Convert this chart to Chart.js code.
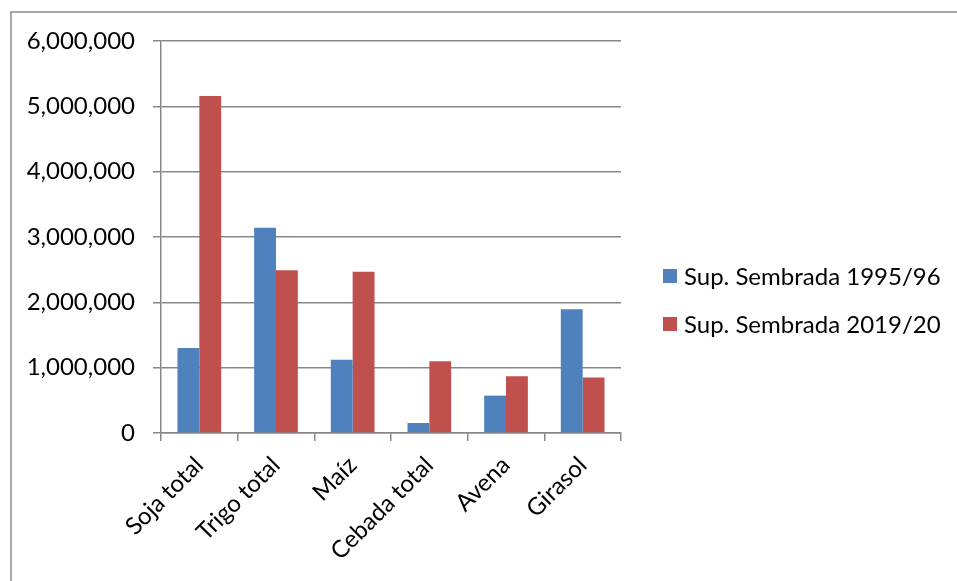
<!DOCTYPE html>
<html lang="es">
<head>
    <meta charset="UTF-8">
    <title>Superficie sembrada</title>
    <style>
        html, body { margin: 0; padding: 0; background: #ffffff; }
        canvas { display: block; }
    </style>
</head>
<body>
    <script src="https://cdn.jsdelivr.net/npm/chart.js@4.4.1/dist/chart.umd.min.js"></script>
    <canvas id="superficie" width="957" height="581"></canvas>
    <script>
        var cultivos = ['Soja total', 'Trigo total', 'Maíz', 'Cebada total', 'Avena', 'Girasol'];
        var sup9596 = [1300000, 3140000, 1120000, 153000, 572000, 1896000];
        var sup1920 = [5160000, 2490000, 2470000, 1100000, 868000, 848000];
        var ticksY = [0, 1000000, 2000000, 3000000, 4000000, 5000000, 6000000];

        var gris = '#878787';
        var fuente = { family: 'Lato', size: 24 };

        // marco del grafico (solo borde izquierdo y superior)
        var marco = {
            id: 'marco',
            beforeDraw: function (chart) {
                var ctx = chart.ctx;
                ctx.save();
                ctx.strokeStyle = '#8a8a8a';
                ctx.lineWidth = 1.5;
                ctx.beginPath();
                ctx.moveTo(11, chart.height);
                ctx.lineTo(11, 12);
                ctx.lineTo(chart.width, 12);
                ctx.stroke();
                ctx.restore();
            }
        };

        // leyenda a la derecha, dibujada a partir de los datasets
        var leyenda = {
            id: 'leyenda',
            afterDraw: function (chart) {
                var ctx = chart.ctx;
                ctx.save();
                ctx.font = fuente.size + 'px ' + fuente.family;
                ctx.textBaseline = 'middle';
                chart.data.datasets.forEach(function (ds, i) {
                    var y = 276 + i * 48;
                    ctx.fillStyle = ds.backgroundColor;
                    ctx.fillRect(663, y - 7, 14, 14);
                    ctx.fillStyle = '#000000';
                    ctx.fillText(ds.label, 684, y + 1);
                });
                ctx.restore();
            }
        };

        var data = {
            labels: cultivos,
            datasets: [{
                label: 'Sup. Sembrada 1995/96',
                data: sup9596,
                backgroundColor: '#4F81BD'
            }, {
                label: 'Sup. Sembrada 2019/20',
                data: sup1920,
                backgroundColor: '#C0504D'
            }]
        };

        var options = {
            responsive: false,
            animation: false,
            layout: {
                padding: { left: 0, top: 41, right: 336, bottom: 0 }
            },
            datasets: {
                bar: {
                    categoryPercentage: 0.57,
                    barPercentage: 1
                }
            },
            scales: {
                x: {
                    grid: {
                        drawOnChartArea: false,
                        drawTicks: true,
                        tickLength: 8,
                        color: gris,
                        lineWidth: 1.5
                    },
                    border: { color: gris, width: 1.5 },
                    ticks: {
                        color: '#000000',
                        font: fuente,
                        minRotation: 45,
                        maxRotation: 45,
                        padding: 10
                    },
                    afterFit: function (scale) {
                        scale.height = 148;
                    }
                },
                y: {
                    min: 0,
                    max: 6000000,
                    afterBuildTicks: function (scale) {
                        scale.ticks = ticksY.map(function (v) { return { value: v }; });
                    },
                    grid: {
                        color: gris,
                        lineWidth: 1.5,
                        tickLength: 8
                    },
                    border: { color: gris, width: 1.5 },
                    ticks: {
                        color: '#000000',
                        font: fuente,
                        padding: 18,
                        callback: function (value) {
                            return value.toLocaleString('en-US');
                        }
                    },
                    afterFit: function (scale) {
                        scale.width = 161;
                    }
                }
            },
            plugins: {
                legend: { display: false },
                tooltip: { enabled: false }
            }
        };

        var ctx = document.getElementById('superficie').getContext('2d');
        new Chart(ctx, {
            type: 'bar',
            data: data,
            options: options,
            plugins: [marco, leyenda]
        });
    </script>
</body>
</html>
